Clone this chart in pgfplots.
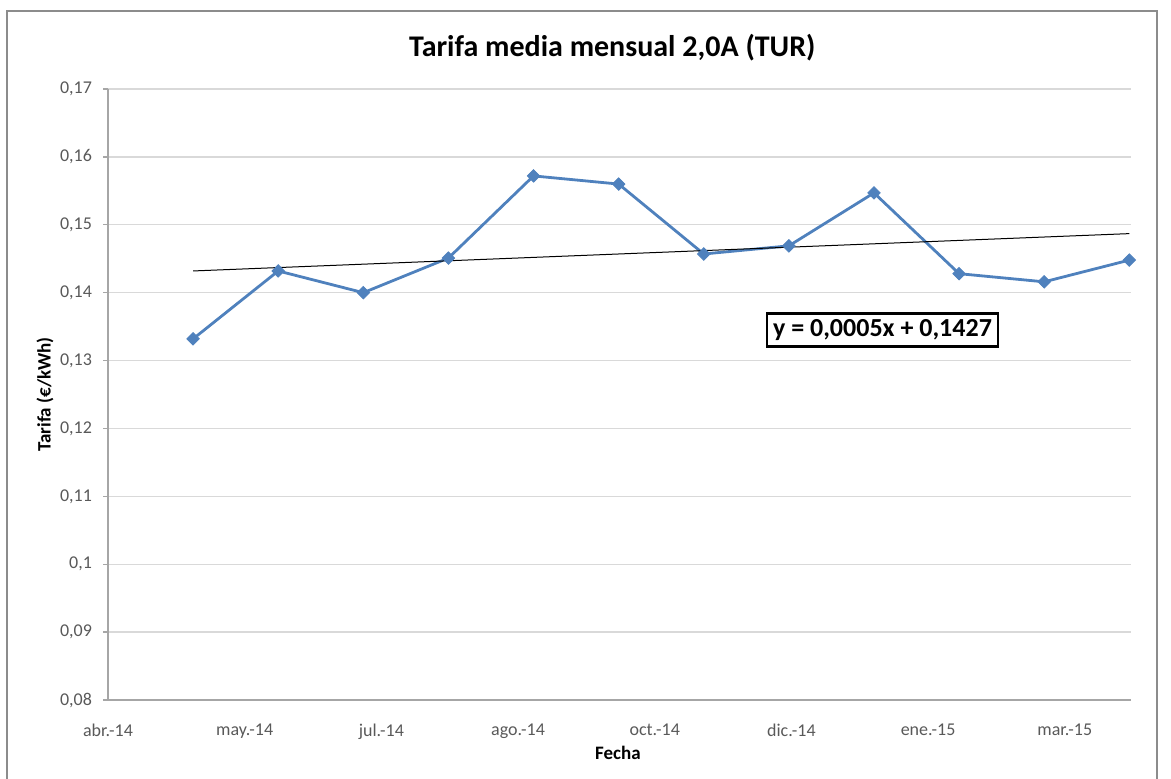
\documentclass[border=0pt]{standalone}
\usepackage{pgfplots}
\pgfplotsset{compat=1.18}
\usepackage{fontspec}
\setmainfont{Carlito}
\definecolor{ExcelBlue}{HTML}{4F81BD}
\definecolor{GridGray}{HTML}{D9D9D9}
\definecolor{AxisGray}{HTML}{A6A6A6}
\definecolor{TextGray}{HTML}{595959}
\definecolor{FrameGray}{HTML}{8C8C8C}

% one reference pixel = 0.5pt; axis box is 1023 x 611 px
\begin{document}
\begin{tikzpicture}
\useasboundingbox (-54pt,-39pt) rectangle (531.5pt,350pt);
\draw[FrameGray, line width=1pt] (-50.5pt,-45pt) -- (-50.5pt,344.5pt) -- (524.5pt,344.5pt) -- (524.5pt,-45pt);
\begin{axis}[
  at={(0pt,0pt)}, anchor=south west,
  scale only axis,
  width=511.5pt, height=305.5pt,
  xmin=0, xmax=12.02,
  ymin=0.08, ymax=0.17,
  ytick={0.08,0.09,...,0.171},
  xtick={0,1.606,3.212,4.818,6.424,8.03,9.636,11.242},
  xticklabels={abr.-14,may.-14,jul.-14,ago.-14,oct.-14,dic.-14,ene.-15,mar.-15},
  ymajorgrids=true,
  major grid style={GridGray, line width=0.7pt},
  axis x line*=bottom,
  axis y line*=left,
  axis line style={AxisGray, line width=0.7pt, -},
  y tick style={AxisGray, line width=0.7pt},
  x tick style={draw=none},
  tick align=outside,
  major tick length=2.5pt,
  /pgf/number format/assume math mode=true,
  /pgf/number format/use comma,
  /pgf/number format/fixed,
  /pgf/number format/precision=2,
  ticklabel style={font=\fontsize{9}{10}\selectfont, text=TextGray},
  yticklabel style={xshift=-2pt},
  xticklabel style={yshift=-6pt},
  title={Tarifa media mensual 2,0A (TUR)},
  every axis title/.style={at={(rel axis cs:0.493,1)}, yshift=20.5pt, anchor=center, font=\fontsize{15}{17}\selectfont\bfseries},
  xlabel={Fecha},
  every axis x label/.style={at={(rel axis cs:0.4985,0)}, yshift=-26.5pt, anchor=center, font=\fontsize{9.5}{11}\selectfont\bfseries},
  ylabel={Tarifa (€/kWh)},
  every axis y label/.style={at={(rel axis cs:0,0.5)}, xshift=-31.5pt, rotate=90, anchor=center, font=\fontsize{9.5}{11}\selectfont\bfseries},
  clip=false,
]
\addplot[ExcelBlue, line width=1.4pt, mark=square*, mark size=2.2pt,
  mark options={fill=ExcelBlue, draw=ExcelBlue, rotate=45, line width=0.4pt}]
  coordinates {
  (1,0.1332) (2,0.1432) (3,0.1400) (4,0.1451) (5,0.1572) (6,0.1560)
  (7,0.1457) (8,0.1469) (9,0.1547) (10,0.1428) (11,0.1416) (12,0.1448)
  };
% linear trend y = 0,0005x + 0,1427
\addplot[black, line width=0.5pt] coordinates {(1,0.1432) (12,0.1487)};
\node[draw=black, line width=1.3pt, fill=white, inner sep=3pt,
  font=\fontsize{13}{15}\selectfont\bfseries] at (axis cs:9.1,0.1345) {y = 0,0005x + 0,1427};
\end{axis}
\end{tikzpicture}
\end{document}
